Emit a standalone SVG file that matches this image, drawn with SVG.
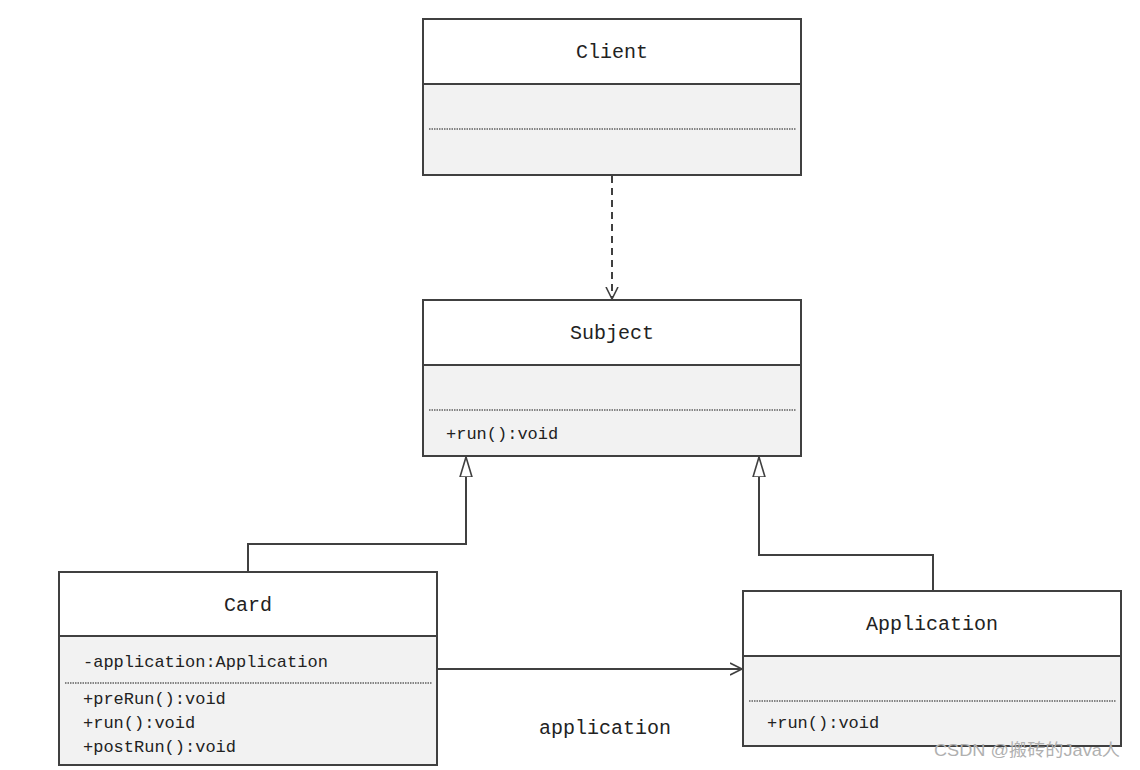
<svg xmlns="http://www.w3.org/2000/svg" width="1140" height="770" viewBox="0 0 1140 770">
<style>
.box{fill:#f2f2f2;stroke:#404040;stroke-width:2}
.hdr{fill:#ffffff;stroke:#404040;stroke-width:2}
.dot{stroke:#606060;stroke-width:1.4;stroke-dasharray:1.5 1}
.t{font-family:"Liberation Mono","DejaVu Sans Mono",monospace;font-size:20px;fill:#222;text-anchor:middle}
.m{font-family:"Liberation Mono","DejaVu Sans Mono",monospace;font-size:17px;fill:#222}
.ln{fill:none;stroke:#404040;stroke-width:2}
</style>
<defs>
<marker id="open" markerWidth="14" markerHeight="14" refX="12" refY="7" orient="auto" markerUnits="userSpaceOnUse">
<path d="M0,1 L12,7 L0,13" fill="none" stroke="#404040" stroke-width="1.6"/>
</marker>
<marker id="tri" markerWidth="22" markerHeight="16" refX="20" refY="7" orient="auto" markerUnits="userSpaceOnUse">
<path d="M0,1 L20,7 L0,13 Z" fill="#fff" stroke="#404040" stroke-width="1.6"/>
</marker>
</defs>
<rect width="1140" height="770" fill="#fff"/>
<g id="connectors">
<line x1="612" y1="176" x2="612" y2="299" class="ln" stroke-dasharray="7 5" marker-end="url(#open)"/>
<polyline points="248,572 248,544 466,544 466,457" class="ln" marker-end="url(#tri)"/>
<polyline points="933,591 933,555 759,555 759,457" class="ln" marker-end="url(#tri)"/>
<line x1="437" y1="669" x2="742" y2="669" class="ln" marker-end="url(#open)"/>
<text x="605" y="734" class="t">application</text>
</g>
<g id="client">
<rect x="423" y="19" width="378" height="156" class="box"/>
<rect x="423" y="19" width="378" height="65" class="hdr"/>
<line x1="429" y1="129" x2="796" y2="129" class="dot"/>
<text x="612" y="58" class="t">Client</text>
</g>
<g id="subject">
<rect x="423" y="300" width="378" height="156" class="box"/>
<rect x="423" y="300" width="378" height="65" class="hdr"/>
<line x1="429" y1="410" x2="796" y2="410" class="dot"/>
<text x="612" y="339" class="t">Subject</text>
<text x="446" y="439" class="m">+run():void</text>
</g>
<g id="card">
<rect x="59" y="572" width="378" height="193" class="box"/>
<rect x="59" y="572" width="378" height="64" class="hdr"/>
<line x1="65" y1="683" x2="432" y2="683" class="dot"/>
<text x="248" y="611" class="t">Card</text>
<text x="83" y="667" class="m">-application:Application</text>
<text x="83" y="704" class="m">+preRun():void</text>
<text x="83" y="728" class="m">+run():void</text>
<text x="83" y="752" class="m">+postRun():void</text>
</g>
<g id="application">
<rect x="743" y="591" width="378" height="155" class="box"/>
<rect x="743" y="591" width="378" height="65" class="hdr"/>
<line x1="749" y1="701" x2="1116" y2="701" class="dot"/>
<text x="932" y="630" class="t">Application</text>
<text x="767" y="728" class="m">+run():void</text>
</g>
<text x="934" y="756" font-family="'Liberation Sans','Noto Sans CJK SC',sans-serif" font-size="17" fill="#b0b0b0" textLength="186" lengthAdjust="spacingAndGlyphs">CSDN @搬砖的Java人</text>
</svg>
